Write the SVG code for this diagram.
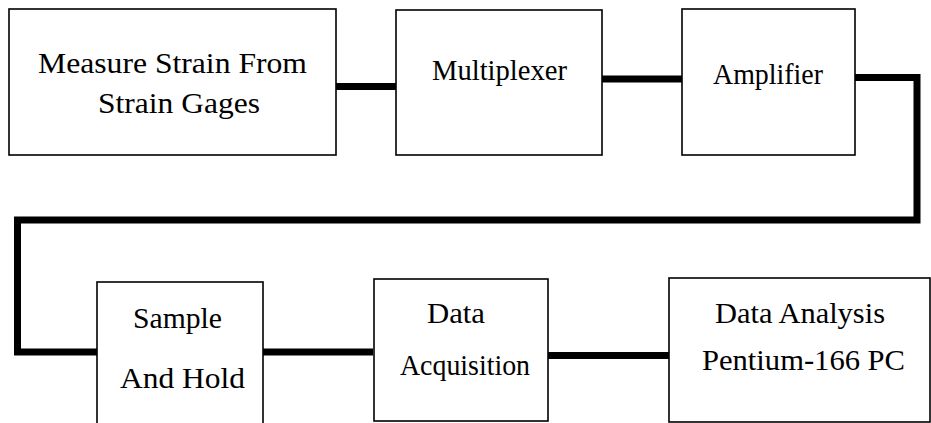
<svg xmlns="http://www.w3.org/2000/svg" width="931" height="423" viewBox="0 0 931 423">
<style>
.box{fill:#fff;stroke:#000;stroke-width:1.6}
.conn{fill:none;stroke:#000;stroke-width:7;stroke-linejoin:miter;stroke-linecap:butt}
text{font-family:Liberation Serif, DejaVu Serif, Noto Serif, Times, serif;font-size:30px;fill:#000}
</style>
<rect width="931" height="423" fill="#fff"/>
<g id="connectors">
<path class="conn" d="M336,86.5 H396"/>
<path class="conn" d="M602,79 H682"/>
<path class="conn" d="M855,77.5 H917 V220 H17.5 V352 H97"/>
<path class="conn" d="M263,352 H373"/>
<path class="conn" d="M548,355.5 H669"/>
</g>
<g id="measure">
<rect class="box" x="9" y="9" width="327" height="146"/>
<text font-family="Liberation Serif" x="38" y="73" textLength="269" lengthAdjust="spacingAndGlyphs">Measure Strain From</text>
<text font-family="Liberation Serif" x="98" y="113" textLength="162" lengthAdjust="spacingAndGlyphs">Strain Gages</text>
</g>
<g id="multiplexer">
<rect class="box" x="396" y="10" width="206" height="145"/>
<text x="432" y="80" textLength="135" lengthAdjust="spacingAndGlyphs">Multiplexer</text>
</g>
<g id="amplifier">
<rect class="box" x="682" y="9" width="173" height="146"/>
<text x="713" y="84" textLength="110" lengthAdjust="spacingAndGlyphs">Amplifier</text>
</g>
<g id="samplehold">
<rect class="box" x="97" y="282" width="166" height="150"/>
<text x="133" y="328" textLength="89" lengthAdjust="spacingAndGlyphs">Sample</text>
<text x="120" y="388" textLength="125" lengthAdjust="spacingAndGlyphs">And Hold</text>
</g>
<g id="dataacq">
<rect class="box" x="374" y="279" width="174" height="142"/>
<text x="427" y="323" textLength="58" lengthAdjust="spacingAndGlyphs">Data</text>
<text x="400" y="375" textLength="130" lengthAdjust="spacingAndGlyphs">Acquisition</text>
</g>
<g id="analysis">
<rect class="box" x="669" y="278" width="261" height="144"/>
<text x="715" y="323" textLength="170" lengthAdjust="spacingAndGlyphs">Data Analysis</text>
<text x="702" y="370" textLength="203" lengthAdjust="spacingAndGlyphs">Pentium-166 PC</text>
</g>
</svg>
